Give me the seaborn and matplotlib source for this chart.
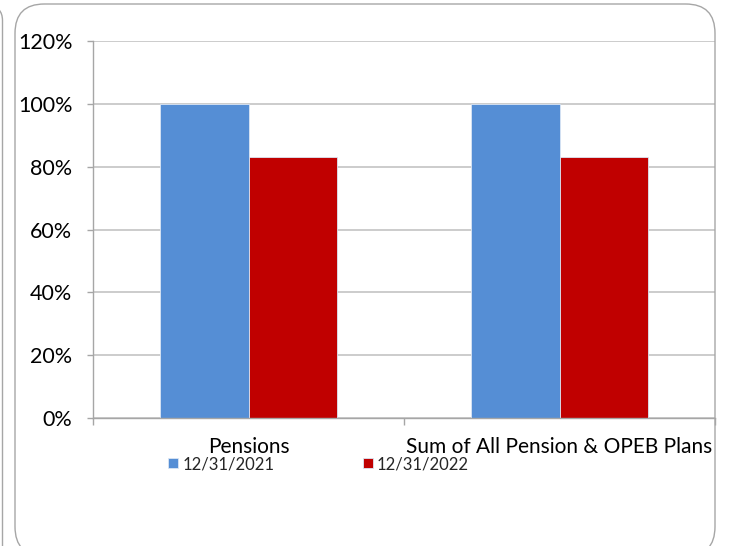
import pandas as pd
import seaborn as sns
import matplotlib.pyplot as plt
from matplotlib.patches import FancyBboxPatch
from matplotlib.ticker import FixedLocator, PercentFormatter

# Chart data
categories = ["Pensions", "Sum of All Pension & OPEB Plans"]
dates = ["12/31/2021", "12/31/2022"]
funded_2021 = [1.00, 1.00]
funded_2022 = [0.83, 0.83]
y_ticks = [0, 0.2, 0.4, 0.6, 0.8, 1.0, 1.2]

df = pd.DataFrame({
    "Plan": categories * 2,
    "Date": [dates[0]] * 2 + [dates[1]] * 2,
    "Funded": funded_2021 + funded_2022,
})

sns.set_style("white")
plt.rcParams["font.family"] = ["Lato", "DejaVu Sans"]

W, H = 733, 546
fig = plt.figure(figsize=(W / 100, H / 100), dpi=100)

# rounded panel borders
border = "#a6a6a6"
fig.patches.append(FancyBboxPatch((15 / W, -10 / H), 700 / W, 552 / H,
                                  boxstyle="round,pad=0,rounding_size=0.04",
                                  transform=fig.transFigure, fill=False,
                                  edgecolor=border, linewidth=1.0,
                                  mutation_aspect=W / H))
fig.patches.append(FancyBboxPatch((-100 / W, -20 / H), 102.5 / W, 560 / H,
                                  boxstyle="round,pad=0,rounding_size=0.02",
                                  transform=fig.transFigure, fill=False,
                                  edgecolor=border, linewidth=1.0,
                                  mutation_aspect=W / H))

ax = fig.add_axes([93 / W, 128 / H, 622 / W, 377 / H])

sns.barplot(data=df, x="Plan", y="Funded", hue="Date", order=categories,
            hue_order=dates, palette=["#558ed5", "#c00000"], width=0.57,
            edgecolor="#dbe6f4", linewidth=0.6, saturation=1, ax=ax)

ax.set_xlim(-0.5, 1.5)
ax.set_ylim(0, 1.2)
ax.yaxis.set_major_locator(FixedLocator(y_ticks))
ax.yaxis.set_major_formatter(PercentFormatter(1.0, decimals=0))
ax.grid(axis="y", color="#bfbfbf", linewidth=1.1)
ax.set_axisbelow(True)

for s in ["top", "right"]:
    ax.spines[s].set_visible(False)
for s in ["left", "bottom"]:
    ax.spines[s].set_color("#a6a6a6")
    ax.spines[s].set_linewidth(1.0)

ax.tick_params(axis="y", direction="out", length=4.3, width=1.0,
               color="#a6a6a6", pad=10.5, labelsize=15.5, labelcolor="black",
               left=True)
ax.tick_params(axis="x", which="major", length=0, pad=14, labelsize=15,
               labelcolor="black")
ax.xaxis.set_minor_locator(FixedLocator([-0.5, 0.5, 1.5]))
ax.tick_params(axis="x", which="minor", direction="out", length=5, width=1.0,
               color="#a6a6a6", bottom=True)
ax.set_xlabel("")
ax.set_ylabel("")

ax.legend(loc="upper left", bbox_to_anchor=(168 / W, 1 - 456 / H),
          bbox_transform=fig.transFigure, ncol=2, frameon=False,
          fontsize=12, handlelength=0.6, handleheight=0.6,
          handletextpad=0.25, columnspacing=5.3, borderpad=0,
          borderaxespad=0)

fig.savefig("out.png", dpi=100)
